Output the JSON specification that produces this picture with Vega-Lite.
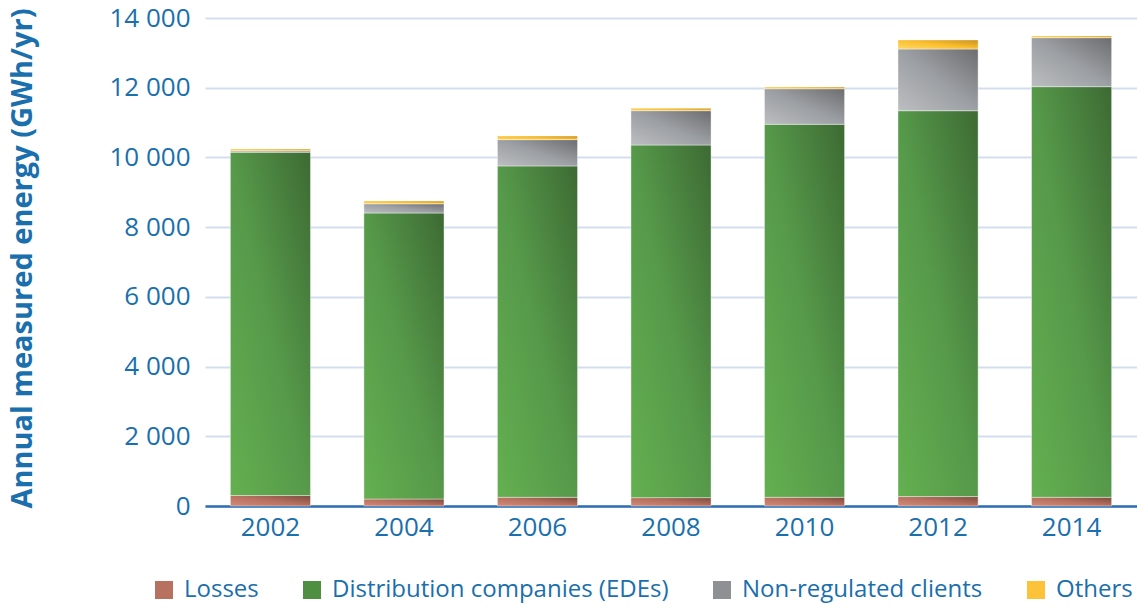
{
  "$schema": "https://vega.github.io/schema/vega-lite/v6.json",
  "autosize": {"type": "none"},
  "padding": {"left": 205, "top": 18, "right": 0, "bottom": 102},
  "width": 932,
  "height": 488,
  "config": {
    "view": {"stroke": null},
    "font": "Open Sans"
  },
  "data": {
    "values": [
      {"year": "2002", "category": "Losses", "value": 300, "ord": 1},
      {"year": "2002", "category": "Distribution companies (EDEs)", "value": 9850, "ord": 2},
      {"year": "2002", "category": "Non-regulated clients", "value": 40, "ord": 3},
      {"year": "2002", "category": "Others", "value": 50, "ord": 4},
      {"year": "2004", "category": "Losses", "value": 200, "ord": 1},
      {"year": "2004", "category": "Distribution companies (EDEs)", "value": 8205, "ord": 2},
      {"year": "2004", "category": "Non-regulated clients", "value": 265, "ord": 3},
      {"year": "2004", "category": "Others", "value": 80, "ord": 4},
      {"year": "2006", "category": "Losses", "value": 250, "ord": 1},
      {"year": "2006", "category": "Distribution companies (EDEs)", "value": 9505, "ord": 2},
      {"year": "2006", "category": "Non-regulated clients", "value": 755, "ord": 3},
      {"year": "2006", "category": "Others", "value": 105, "ord": 4},
      {"year": "2008", "category": "Losses", "value": 240, "ord": 1},
      {"year": "2008", "category": "Distribution companies (EDEs)", "value": 10116, "ord": 2},
      {"year": "2008", "category": "Non-regulated clients", "value": 985, "ord": 3},
      {"year": "2008", "category": "Others", "value": 70, "ord": 4},
      {"year": "2010", "category": "Losses", "value": 250, "ord": 1},
      {"year": "2010", "category": "Distribution companies (EDEs)", "value": 10700, "ord": 2},
      {"year": "2010", "category": "Non-regulated clients", "value": 1020, "ord": 3},
      {"year": "2010", "category": "Others", "value": 50, "ord": 4},
      {"year": "2012", "category": "Losses", "value": 270, "ord": 1},
      {"year": "2012", "category": "Distribution companies (EDEs)", "value": 11070, "ord": 2},
      {"year": "2012", "category": "Non-regulated clients", "value": 1770, "ord": 3},
      {"year": "2012", "category": "Others", "value": 260, "ord": 4},
      {"year": "2014", "category": "Losses", "value": 250, "ord": 1},
      {"year": "2014", "category": "Distribution companies (EDEs)", "value": 11780, "ord": 2},
      {"year": "2014", "category": "Non-regulated clients", "value": 1405, "ord": 3},
      {"year": "2014", "category": "Others", "value": 50, "ord": 4}
    ]
  },
  "mark": {"type": "bar", "stroke": "#ffffff", "strokeOpacity": 0.4, "strokeWidth": 1},
  "encoding": {
    "x": {
      "field": "year",
      "type": "ordinal",
      "scale": {"paddingInner": 0.4, "paddingOuter": 0.19},
      "axis": {
        "title": null,
        "labelAngle": 0,
        "labelFontSize": 26,
        "labelColor": "#1a6fad",
        "labelPadding": 8,
        "ticks": false,
        "domainColor": "#2e6db4",
        "domainWidth": 2.5
      }
    },
    "y": {
      "field": "value",
      "type": "quantitative",
      "stack": "zero",
      "scale": {"domain": [0, 14000], "nice": false},
      "axis": {
        "title": "Annual measured energy (GWh/yr)",
        "titleFontSize": 29,
        "titleFontWeight": "bold",
        "titleColor": "#1a6fad",
        "titleAngle": -90,
        "titleX": -183,
        "titleY": 240,
        "titleAlign": "center",
        "titleBaseline": "middle",
        "values": [0, 2000, 4000, 6000, 8000, 10000, 12000, 14000],
        "labelExpr": "replace(format(datum.value, ','), ',', ' ')",
        "labelFontSize": 26,
        "labelColor": "#1a6fad",
        "labelPadding": 15,
        "ticks": false,
        "domain": false,
        "gridColor": "#d3ddf0",
        "gridWidth": 2
      }
    },
    "color": {
      "field": "category",
      "type": "nominal",
      "condition": [
        {"test": "datum.category === 'Losses'", "value": {"gradient": "linear", "x1": 0, "y1": 1, "x2": 1, "y2": 0, "stops": [{"offset": 0, "color": "#d08b78"}, {"offset": 0.5, "color": "#b8705f"}, {"offset": 1, "color": "#7a4a3e"}]}},
        {"test": "datum.category === 'Distribution companies (EDEs)'", "value": {"gradient": "linear", "x1": 0, "y1": 1, "x2": 1, "y2": 0, "stops": [{"offset": 0, "color": "#64b050"}, {"offset": 0.5, "color": "#56994a"}, {"offset": 1, "color": "#3d6a33"}]}},
        {"test": "datum.category === 'Non-regulated clients'", "value": {"gradient": "linear", "x1": 0, "y1": 1, "x2": 1, "y2": 0, "stops": [{"offset": 0, "color": "#bcbec1"}, {"offset": 0.5, "color": "#9c9fa3"}, {"offset": 1, "color": "#6c6d71"}]}},
        {"test": "datum.category === 'Others'", "value": {"gradient": "linear", "x1": 0, "y1": 1, "x2": 1, "y2": 0, "stops": [{"offset": 0, "color": "#fed965"}, {"offset": 0.5, "color": "#fbbf2e"}, {"offset": 1, "color": "#c9921f"}]}}
      ],
      "scale": {
        "domain": ["Losses", "Distribution companies (EDEs)", "Non-regulated clients", "Others"],
        "range": ["#b8705f", "#4f8f42", "#8e9094", "#fbc23a"]
      },
      "legend": {
        "title": null,
        "orient": "none",
        "direction": "horizontal",
        "legendX": -53,
        "legendY": 560,
        "symbolType": "square",
        "symbolSize": 324,
        "symbolStrokeWidth": 0,
        "labelFontSize": 24,
        "labelColor": "#1a6fad",
        "labelOffset": 8,
        "labelLimit": 0,
        "columnPadding": 41
      }
    },
    "order": {"field": "ord", "type": "quantitative"}
  }
}
